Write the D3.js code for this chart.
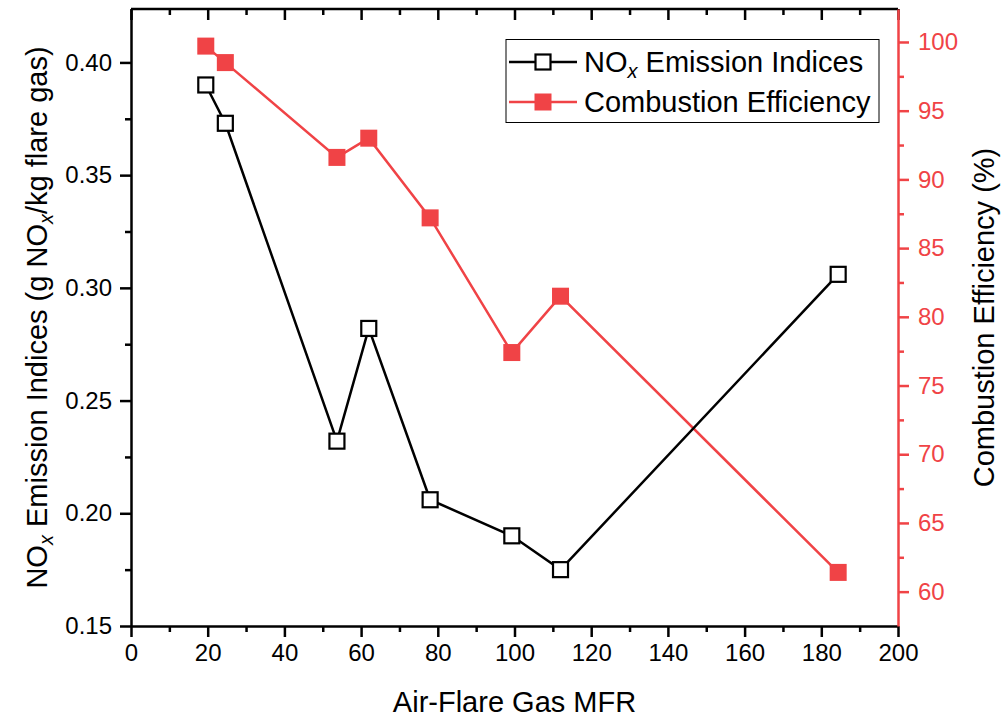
<!DOCTYPE html>
<html>
<head>
<meta charset="utf-8">
<script src="https://cdn.jsdelivr.net/npm/d3@7"></script>
<style>
  body { margin: 0; background: #fff; }
  svg { font-family: "Liberation Sans", Arial, sans-serif; }
  .domain { stroke-width: 2.5; }
  .tick line { stroke-width: 2.5; }
</style>
</head>
<body>
<svg id="chart" width="1006" height="723"></svg>
<script>
// data
var mfr = [19.5, 24.6, 53.7, 62.0, 78.0, 99.3, 112.0, 184.4];
var noxEI = [0.390, 0.373, 0.232, 0.282, 0.206, 0.190, 0.175, 0.306];
var combEff = [99.7, 98.5, 91.6, 93.0, 87.2, 77.4, 81.5, 61.4];
var xTicks = [0, 20, 40, 60, 80, 100, 120, 140, 160, 180, 200];
var leftTicks = [0.15, 0.20, 0.25, 0.30, 0.35, 0.40];
var rightTicks = [60, 65, 70, 75, 80, 85, 90, 95, 100];

var red = "#f04346";
// note: "top" is taken by window.top, so plot edges get their own names
var pLeft = 131, pRight = 898, pTop = 9, pBottom = 626;

var svg = d3.select("#chart");

var x = d3.scaleLinear().domain([0, 200]).range([pLeft, pRight]);
var yL = d3.scaleLinear().domain([0.15, 0.4237]).range([pBottom, pTop]);
var yR = d3.scaleLinear().domain([57.5, 102.4]).range([pBottom, pTop]);

// minor ticks (no labels)
var xMinor = d3.range(10, 200, 20);
var lMinor = d3.range(0.175, 0.42, 0.05);
var rMinor = d3.range(62.5, 102.5, 5);

function noLabels(g) { g.selectAll("text").remove(); g.select(".domain").remove(); }

svg.append("g").attr("transform", "translate(0," + pBottom + ")")
  .call(d3.axisBottom(x).tickValues(xMinor).tickSize(6)).call(noLabels);
svg.append("g").attr("transform", "translate(0," + pTop + ")")
  .call(d3.axisBottom(x).tickValues(xMinor).tickSize(6)).call(noLabels);
svg.append("g").attr("transform", "translate(0," + pTop + ")")
  .call(d3.axisBottom(x).tickValues(xTicks).tickSize(11)).call(noLabels);
svg.append("g").attr("transform", "translate(" + pLeft + ",0)")
  .call(d3.axisLeft(yL).tickValues(lMinor).tickSize(6)).call(noLabels);
svg.append("g").attr("transform", "translate(" + pRight + ",0)")
  .call(d3.axisRight(yR).tickValues(rMinor).tickSize(6)).call(noLabels)
  .selectAll("line").attr("stroke", red);

// top frame line
svg.append("line").attr("x1", pLeft).attr("x2", pRight).attr("y1", pTop).attr("y2", pTop)
  .attr("stroke", "#000").attr("stroke-width", 2.5);

var xAxis = svg.append("g").attr("transform", "translate(0," + pBottom + ")")
  .call(d3.axisBottom(x).tickValues(xTicks).tickSize(11).tickPadding(7).tickSizeOuter(0));
xAxis.selectAll("text").attr("font-size", 24).attr("fill", "#000");

var lAxis = svg.append("g").attr("transform", "translate(" + pLeft + ",0)")
  .call(d3.axisLeft(yL).tickValues(leftTicks).tickFormat(d3.format(".2f")).tickSize(11).tickPadding(8).tickSizeOuter(0));
lAxis.selectAll("text").attr("font-size", 24).attr("fill", "#000");

var rAxis = svg.append("g").attr("transform", "translate(" + pRight + ",0)")
  .call(d3.axisRight(yR).tickValues(rightTicks).tickSize(11).tickPadding(9).tickSizeOuter(0));
rAxis.select(".domain").attr("stroke", red);
rAxis.selectAll("line").attr("stroke", red);
rAxis.selectAll("text").attr("font-size", 24).attr("fill", red);

// lines
var pts = mfr.map(function(d, i) { return { x: d, n: noxEI[i], c: combEff[i] }; });

svg.append("path").datum(pts)
  .attr("d", d3.line().x(d => x(d.x)).y(d => yR(d.c)))
  .attr("fill", "none").attr("stroke", red).attr("stroke-width", 2.5);
svg.append("path").datum(pts)
  .attr("d", d3.line().x(d => x(d.x)).y(d => yL(d.n)))
  .attr("fill", "none").attr("stroke", "#000").attr("stroke-width", 2.5);

svg.selectAll("rect.ce").data(pts).enter().append("rect").attr("class", "ce")
  .attr("x", d => x(d.x) - 8.5).attr("y", d => yR(d.c) - 8.5)
  .attr("width", 17).attr("height", 17).attr("fill", red);
svg.selectAll("rect.nox").data(pts).enter().append("rect").attr("class", "nox")
  .attr("x", d => x(d.x) - 7.5).attr("y", d => yL(d.n) - 7.5)
  .attr("width", 15).attr("height", 15).attr("fill", "#fff")
  .attr("stroke", "#000").attr("stroke-width", 2.2);

// legend
var lg = svg.append("g");
lg.append("rect").attr("x", 506).attr("y", 39.5).attr("width", 373).attr("height", 83)
  .attr("fill", "#fff").attr("stroke", "#000").attr("stroke-width", 1);
lg.append("line").attr("x1", 509).attr("x2", 577).attr("y1", 62).attr("y2", 62)
  .attr("stroke", "#000").attr("stroke-width", 2.5);
lg.append("rect").attr("x", 535.5).attr("y", 54.5).attr("width", 15).attr("height", 15)
  .attr("fill", "#fff").attr("stroke", "#000").attr("stroke-width", 2.2);
var t1 = lg.append("text").attr("x", 584).attr("y", 72).attr("font-size", 29);
t1.append("tspan").text("NO");
t1.append("tspan").attr("font-size", 20).attr("font-style", "italic").attr("dy", 6).text("x");
t1.append("tspan").attr("dy", -6).text(" Emission Indices");
lg.append("line").attr("x1", 509).attr("x2", 577).attr("y1", 102).attr("y2", 102)
  .attr("stroke", red).attr("stroke-width", 2.5);
lg.append("rect").attr("x", 534.5).attr("y", 93.5).attr("width", 17).attr("height", 17).attr("fill", red);
lg.append("text").attr("x", 584).attr("y", 112).attr("font-size", 29).text("Combustion Efficiency");

// axis titles
svg.append("text").attr("x", (pLeft + pRight) / 2).attr("y", 712)
  .attr("text-anchor", "middle").attr("font-size", 29).text("Air-Flare Gas MFR");

var yt = svg.append("text").attr("transform", "translate(47," + (pTop + pBottom) / 2 + ") rotate(-90)")
  .attr("text-anchor", "middle").attr("font-size", 29);
yt.append("tspan").text("NO");
yt.append("tspan").attr("font-size", 20).attr("font-style", "italic").attr("dy", 6).text("x");
yt.append("tspan").attr("dy", -6).text(" Emission Indices (g NO");
yt.append("tspan").attr("font-size", 20).attr("font-style", "italic").attr("dy", 6).text("x");
yt.append("tspan").attr("dy", -6).text("/kg flare gas)");

svg.append("text").attr("transform", "translate(994," + (pTop + pBottom) / 2 + ") rotate(-90)")
  .attr("text-anchor", "middle").attr("font-size", 29).text("Combustion Efficiency (%)");
</script>
</body>
</html>
